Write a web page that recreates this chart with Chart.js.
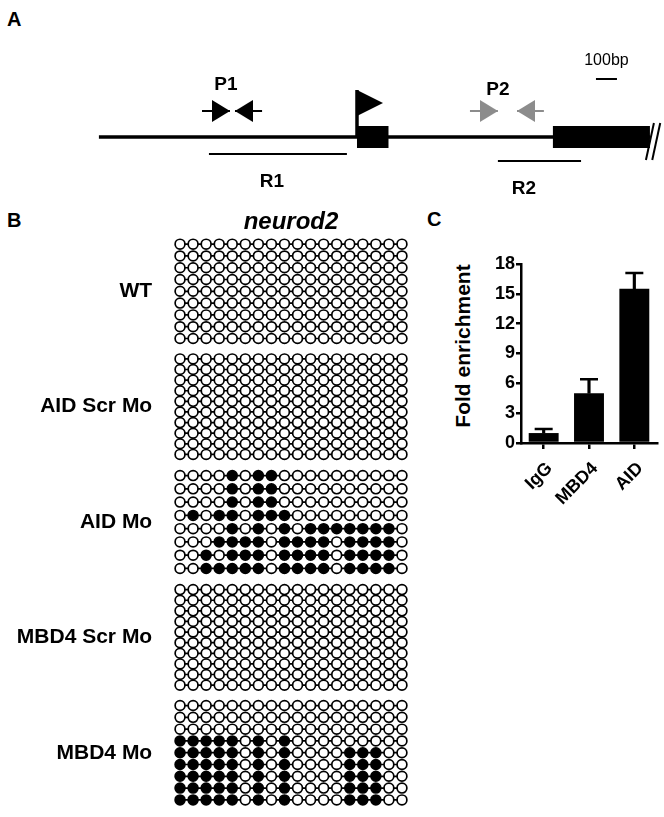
<!DOCTYPE html>
<html>
<head>
<meta charset="utf-8">
<script src="https://cdn.jsdelivr.net/npm/chart.js@4.4.1/dist/chart.umd.min.js"></script>
<style>
  html, body { margin:0; padding:0; background:#fff; overflow:hidden; }
  body { width:664px; height:817px; position:relative; font-family:"Liberation Sans", Arial, sans-serif; }
  canvas { position:absolute; }
  #mapChart { left:0; top:0; }
  #methChart { left:0; top:200px; }
  #chipChart { left:430px; top:230px; }
  .panel { position:absolute; font-weight:bold; font-size:20px; }
  #yTitle { position:absolute; left:463px; top:346px; font-weight:bold; font-size:21px; white-space:nowrap;
            transform:translate(-50%,-50%) rotate(-90deg); }
</style>
</head>
<body>
<div class="panel" style="left:7px;top:8px">A</div>
<div class="panel" style="left:7px;top:209px">B</div>
<div class="panel" style="left:427px;top:208px">C</div>
<div id="yTitle">Fold enrichment</div>
<canvas id="mapChart" width="664" height="200"></canvas>
<canvas id="methChart" width="430" height="617"></canvas>
<canvas id="chipChart" width="234" height="300"></canvas>
<script>
const FONT = '"Liberation Sans", Arial, Helvetica, sans-serif';
Chart.defaults.font.family = FONT;
Chart.defaults.color = '#000';

// ---- A: gene map, positions in bp relative to TSS ----
const geneLine = [-1229, 1395];
const exons = [[0, 150], [933, 1395]];
const tss = 0;
const primersP1 = [[-738, -605], [-452, -581]];   // [tail, tip]
const primersP2 = [[538, 671], [890, 762]];
const regionR1 = [-705, -48];
const regionR2 = [671, 1067];
const scaleBar = [1138, 1238];                   // 100 bp
const breakAt = 1411;

// ---- B: bisulfite clones, 18 CpGs each, 1 = methylated ----
const blocks = ['WT', 'AID Scr Mo', 'AID Mo', 'MBD4 Scr Mo', 'MBD4 Mo'];
const wtClones = [
  '000000000000000000', '000000000000000000', '000000000000000000',
  '000000000000000000', '000000000000000000', '000000000000000000',
  '000000000000000000', '000000000000000000', '000000000000000000'
];
const aidScrClones = [
  '000000000000000000', '000000000000000000', '000000000000000000',
  '000000000000000000', '000000000000000000', '000000000000000000',
  '000000000000000000', '000000000000000000', '000000000000000000',
  '000000000000000000'
];
const aidMoClones = [
  '000010110000000000',
  '000010110000000000',
  '000010110000000000',
  '010110111000000000',
  '000010101011111110',
  '000111101111011110',
  '001011101111011110',
  '001111101111011110'
];
const mbd4ScrClones = [
  '000000000000000000', '000000000000000000', '000000000000000000',
  '000000000000000000', '000000000000000000', '000000000000000000',
  '000000000000000000', '000000000000000000', '000000000000000000',
  '000000000000000000'
];
const mbd4MoClones = [
  '000000000000000000',
  '000000000000000000',
  '000000000000000000',
  '111110101000000000',
  '111110101000011100',
  '111110101000011100',
  '111110101000011100',
  '111110101000011100',
  '111110101000011100'
];

// ---- C: ChIP ----
const chipLabels = ['IgG', 'MBD4', 'AID'];
const chipMean = [1.0, 5.0, 15.5];
const chipSem = [0.4, 1.4, 1.6];

// ================= A =================
const lvl = { gene: 0, primer: 2.6, flagTop: 4.7, flagMid: 3.4, r1: -1.7, r2: -2.4, bar: 5.8 };
const GRAY = '#8c8c8c';

function headImg(w, h, color, baseAtCenter) {
  const c = document.createElement('canvas');
  c.width = w * 2; c.height = h;
  const g = c.getContext('2d');
  const x0 = baseAtCenter ? w : 0;
  g.fillStyle = color;
  g.beginPath(); g.moveTo(x0, 0); g.lineTo(x0 + w, h / 2); g.lineTo(x0, h); g.closePath(); g.fill();
  return c;
}

function seg(a, b, y, color, width) {
  return { data: [{ x: a, y: y }, { x: b, y: y }], showLine: true, borderColor: color,
           borderWidth: width, borderCapStyle: 'butt', pointRadius: 0, clip: false };
}

const mapSets = [];
mapSets.push(seg(geneLine[0], geneLine[1], lvl.gene, '#000', 3.5));
exons.forEach(e => mapSets.push(seg(e[0], e[1], lvl.gene, '#000', 22)));
mapSets.push(seg(regionR1[0], regionR1[1], lvl.r1, '#000', 2));
mapSets.push(seg(regionR2[0], regionR2[1], lvl.r2, '#000', 2));
mapSets.push(seg(scaleBar[0], scaleBar[1], lvl.bar, '#000', 2));
// TSS flag
mapSets.push({ data: [{ x: tss, y: lvl.gene }, { x: tss, y: lvl.flagTop }], showLine: true,
               borderColor: '#000', borderWidth: 3.5, pointRadius: 0, clip: false });
mapSets.push({ data: [{ x: tss, y: lvl.flagMid }], pointStyle: headImg(26, 26, '#000', true),
               pointRadius: 5, clip: false });
// primers
[[primersP1, '#000'], [primersP2, GRAY]].forEach(([pair, col]) => {
  pair.forEach(p => {
    mapSets.push(seg(p[0], p[1], lvl.primer, col, 2));
    mapSets.push({ data: [{ x: p[1], y: lvl.primer }], pointStyle: headImg(18, 22, col, false),
                   rotation: p[1] > p[0] ? 0 : 180, pointRadius: 5, clip: false });
  });
});
// break mark //
[-16, 14].forEach(d => {
  mapSets.push({ data: [{ x: breakAt + d - 19, y: -2.3 }, { x: breakAt + d + 19, y: 1.4 }],
                 showLine: true, borderColor: '#000', borderWidth: 2, pointRadius: 0, clip: false });
});

const mapLabels = {
  id: 'mapLabels',
  afterDatasetsDraw(chart, args, opts) {
    const { ctx, scales: { x, y } } = chart;
    ctx.save();
    ctx.textAlign = 'center';
    ctx.textBaseline = 'middle';
    ctx.fillStyle = '#000';
    opts.items.forEach(it => {
      ctx.font = it.font;
      ctx.fillText(it.text, x.getPixelForValue(it.x), y.getPixelForValue(it.y));
    });
    ctx.restore();
  }
};

new Chart(document.getElementById('mapChart'), {
  type: 'scatter',
  data: { datasets: mapSets },
  plugins: [mapLabels],
  options: {
    responsive: false, animation: false, events: [],
    layout: { padding: 0, autoPadding: false },
    plugins: {
      legend: { display: false }, tooltip: { enabled: false },
      mapLabels: { items: [
        { text: 'P1', x: -624, y: 5.25, font: 'bold 19px ' + FONT },
        { text: 'P2', x: 671, y: 4.75, font: 'bold 19px ' + FONT },
        { text: 'R1', x: -405, y: -4.5, font: 'bold 19px ' + FONT },
        { text: 'R2', x: 795, y: -5.2, font: 'bold 19px ' + FONT },
        { text: '100bp', x: (scaleBar[0] + scaleBar[1]) / 2, y: 7.6, font: '16px ' + FONT }
      ] }
    },
    scales: {
      x: { type: 'linear', display: false, min: -1700, max: 1462 },
      y: { type: 'linear', display: false, min: -6.3, max: 13.7 }
    }
  }
});

// ================= B =================
const cloneSets = [wtClones, aidScrClones, aidMoClones, mbd4ScrClones, mbd4MoClones];
const methSets = [];
cloneSets.forEach((rows, b) => {
  const n = rows.length;
  rows.forEach((row, r) => {
    const y = b + (r + 0.5 - n / 2) * (0.92 / n);
    const marks = row.split('');
    methSets.push({
      data: marks.map((s, i) => ({ x: i + 1, y: y })),
      showLine: true, borderColor: '#000', borderWidth: 1.7,
      pointRadius: 4.9, pointBorderWidth: 1.7, pointBorderColor: '#000',
      pointBackgroundColor: marks.map(s => s === '1' ? '#000' : '#fff'),
      clip: false
    });
  });
});

new Chart(document.getElementById('methChart'), {
  type: 'scatter',
  data: { datasets: methSets },
  options: {
    responsive: false, animation: false, events: [],
    layout: { padding: { top: 0, right: 20.2, bottom: 6.6, left: 0 }, autoPadding: false },
    plugins: { legend: { display: false }, tooltip: { enabled: false } },
    scales: {
      x: {
        type: 'linear', position: 'top', min: 0.4, max: 18.6,
        grid: { display: false }, border: { display: false }, ticks: { display: false },
        title: { display: true, text: 'neurod2', color: '#000', padding: { top: 7.6, bottom: 0 },
                 font: { size: 24, style: 'italic', weight: 'bold' } },
        afterFit: s => { s.height = 39.4; s.paddingLeft = 0; s.paddingRight = 0; }
      },
      y: {
        type: 'linear', reverse: true, min: -0.45, max: 4.5,
        grid: { display: false }, border: { display: false },
        afterBuildTicks: s => { s.ticks = blocks.map((_, i) => ({ value: i })); },
        afterFit: s => { s.width = 172.2; s.paddingTop = 0; s.paddingBottom = 0; },
        ticks: { padding: 12, color: '#000', font: { size: 21, weight: 'bold' },
                 callback: v => blocks[v] }
      }
    }
  }
});

// ================= C =================
new Chart(document.getElementById('chipChart'), {
  type: 'bar',
  data: {
    labels: chipLabels,
    datasets: [
      { type: 'line', data: chipMean.map((m, i) => m + chipSem[i]), showLine: false,
        pointStyle: 'line', pointRadius: 9, pointBorderWidth: 2.5, pointBorderColor: '#000' },
      { data: chipMean.map((m, i) => [m, m + chipSem[i]]), backgroundColor: '#000',
        barThickness: 2.5, grouped: false },
      { data: chipMean, backgroundColor: '#000', barPercentage: 0.66, categoryPercentage: 1,
        grouped: false }
    ]
  },
  options: {
    responsive: false, animation: false, events: [],
    layout: { padding: { top: 34, right: 7, bottom: 0, left: 0 }, autoPadding: false },
    plugins: { legend: { display: false }, tooltip: { enabled: false } },
    scales: {
      x: {
        offset: true,
        grid: { display: true, drawOnChartArea: false, drawTicks: true, tickLength: 6, offset: false,
                color: '#000', lineWidth: 2.5 },
        border: { display: true, color: '#000', width: 2.5 },
        ticks: { minRotation: 45, maxRotation: 45, padding: 9, labelOffset: 6, color: '#000',
                 font: { size: 18, weight: 'bold' } },
        afterFit: s => { s.height = 87; }
      },
      y: {
        min: 0, max: 18,
        grid: { drawOnChartArea: false, drawTicks: true, tickLength: 5, color: '#000', lineWidth: 2.5 },
        border: { display: true, color: '#000', width: 2.5 },
        ticks: { stepSize: 3, padding: 1, color: '#000', font: { size: 18, weight: 'bold' } },
        afterFit: s => { s.width = 91; }
      }
    }
  }
});
</script>
</body>
</html>
